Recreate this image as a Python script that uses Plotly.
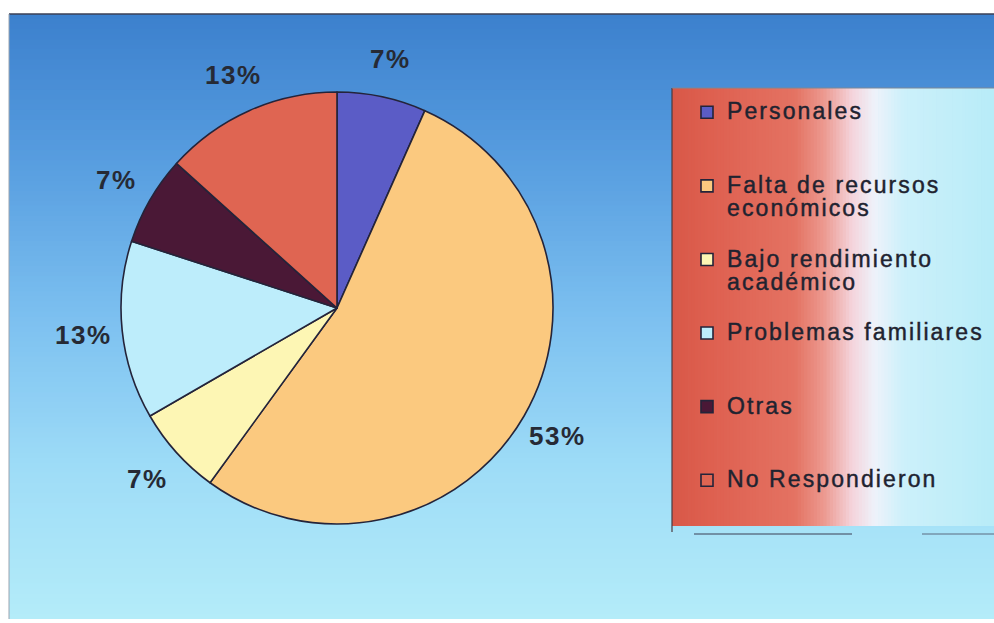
import math
import plotly.graph_objects as go

# ---------------- data ----------------
categories = [
    "Personales",
    "Falta de recursos<br>económicos",
    "Bajo rendimiento<br>académico",
    "Problemas familiares",
    "Otras",
    "No Respondieron",
]
counts = [1, 8, 1, 2, 1, 2]

# ---------------- styles ----------------
slice_colors = ["#5b5cc6", "#fbc97f", "#fdf6b4", "#bdedfb", "#4a1836", "#df6552"]
TEXT = "#1f2330"
FONT = "Liberation Sans, Arial, sans-serif"

W, H = 994, 623


def px(x):
    return x / W


def py(y):
    return 1 - y / H


def lerp(stops, t):
    for (t0, c0), (t1, c1) in zip(stops[:-1], stops[1:]):
        if t0 <= t <= t1:
            f = 0 if t1 == t0 else (t - t0) / (t1 - t0)
            return "rgb(%d,%d,%d)" % tuple(round(a + (b - a) * f) for a, b in zip(c0, c1))
    return "rgb(%d,%d,%d)" % stops[-1][1]


shapes = []
# background vertical gradient (blue top -> light cyan bottom)
bg_stops = [(0.0, (60, 128, 205)), (0.25, (88, 158, 224)), (0.5, (124, 192, 240)),
            (0.75, (158, 220, 247)), (1.0, (180, 236, 249))]
top, bot, left = 14, 619, 9
n = 120
for i in range(n):
    y0 = top + (bot - top) * i / n
    y1 = top + (bot - top) * (i + 1) / n + 0.8
    shapes.append(dict(type="rect", xref="paper", yref="paper", layer="below",
                       x0=px(left), x1=1, y0=py(min(y1, bot)), y1=py(y0),
                       fillcolor=lerp(bg_stops, (i + 0.5) / n), line_width=0))
shapes.append(dict(type="line", xref="paper", yref="paper", layer="below",
                   x0=px(left), x1=1, y0=py(14), y1=py(14),
                   line=dict(color="#3a3f55", width=1.5)))
shapes.append(dict(type="line", xref="paper", yref="paper", layer="below",
                   x0=px(left), x1=px(left), y0=py(bot), y1=py(14),
                   line=dict(color="#9aa4b0", width=1)))

# legend box horizontal gradient (red-orange -> white -> light cyan)
lg_stops = [(0.0, (216, 88, 72)), (0.12, (222, 96, 80)), (0.38, (228, 114, 98)),
            (0.47, (236, 152, 142)), (0.56, (244, 212, 220)), (0.63, (238, 242, 250)),
            (0.72, (204, 240, 250)), (1.0, (184, 236, 248))]
lx0, lx1, ly0, ly1 = 672, 994, 88, 526
m = 100
for i in range(m):
    x0 = lx0 + (lx1 - lx0) * i / m
    x1 = lx0 + (lx1 - lx0) * (i + 1) / m + 0.8
    shapes.append(dict(type="rect", xref="paper", yref="paper", layer="below",
                       x0=px(x0), x1=min(px(x1), 1), y0=py(ly1), y1=py(ly0),
                       fillcolor=lerp(lg_stops, (i + 0.5) / m), line_width=0))
shapes.append(dict(type="line", xref="paper", yref="paper", layer="below",
                   x0=px(lx0), x1=px(lx0), y0=py(ly0), y1=py(ly1 + 6),
                   line=dict(color="#4a3a40", width=1.2)))
shapes.append(dict(type="line", xref="paper", yref="paper", layer="below",
                   x0=px(lx0), x1=1, y0=py(ly0), y1=py(ly0),
                   line=dict(color="#7a8898", width=1)))
shapes.append(dict(type="line", xref="paper", yref="paper", layer="below",
                   x0=px(lx0 + 22), x1=px(lx0 + 180), y0=py(ly1 + 8), y1=py(ly1 + 8),
                   line=dict(color="#3a3f55", width=1)))
shapes.append(dict(type="line", xref="paper", yref="paper", layer="below",
                   x0=px(lx0 + 250), x1=1, y0=py(ly1 + 8), y1=py(ly1 + 8),
                   line=dict(color="#5a6a80", width=1)))


def legend_label(text):
    lines = text.split("<br>")
    while len(lines) < 3:
        lines.append(" ")
    return "<br>".join(
        '<span style="font-size:23px;letter-spacing:2.1px;stroke:%s;stroke-width:0.45px">%s</span>'
        % (TEXT, ln) for ln in lines)


legend_labels = [legend_label(c) for c in categories]

# pie geometry (window pixels)
cx, cy, r = 337, 308, 216

fig = go.Figure(go.Pie(
    labels=legend_labels,
    values=counts,
    sort=False,
    direction="clockwise",
    rotation=0,
    marker=dict(colors=slice_colors, line=dict(color="#24243a", width=1.6)),
    textinfo="none",
    hoverinfo="label+percent",
    domain=dict(x=[px(cx - r), px(cx + r)], y=[py(cy + r), py(cy - r)]),
))

# percentage labels placed outside each slice, from the data
total = sum(counts)
annotations = []
cum = 0
R_LAB = 255
for v in counts:
    mid = 2 * math.pi * (cum + v / 2) / total
    cum += v
    lx = cx + R_LAB * math.sin(mid)
    ly = cy - R_LAB * math.cos(mid)
    pct = round(100 * v / total)
    annotations.append(dict(
        x=px(lx), y=py(ly), xref="paper", yref="paper", showarrow=False,
        xanchor="center", yanchor="middle",
        text='<span style="letter-spacing:1.5px">%d%%</span>' % pct,
        font=dict(family=FONT, size=26, color="#262a35", weight="bold"),
    ))

fig.update_layout(
    width=W, height=H,
    margin=dict(l=0, r=0, t=0, b=0),
    paper_bgcolor="white",
    shapes=shapes,
    annotations=annotations,
    showlegend=True,
    legend=dict(
        x=px(687), y=py(94), xanchor="left", yanchor="top",
        bgcolor="rgba(0,0,0,0)", borderwidth=0,
        font=dict(family=FONT, size=18.1, color=TEXT),
        valign="top",
        traceorder="normal",
    ),
)

fig.write_html(
    "out.html",
    config={"displayModeBar": False},
    post_script="document.body.style.margin='0';"
                "document.documentElement.style.overflow='hidden';",
)
